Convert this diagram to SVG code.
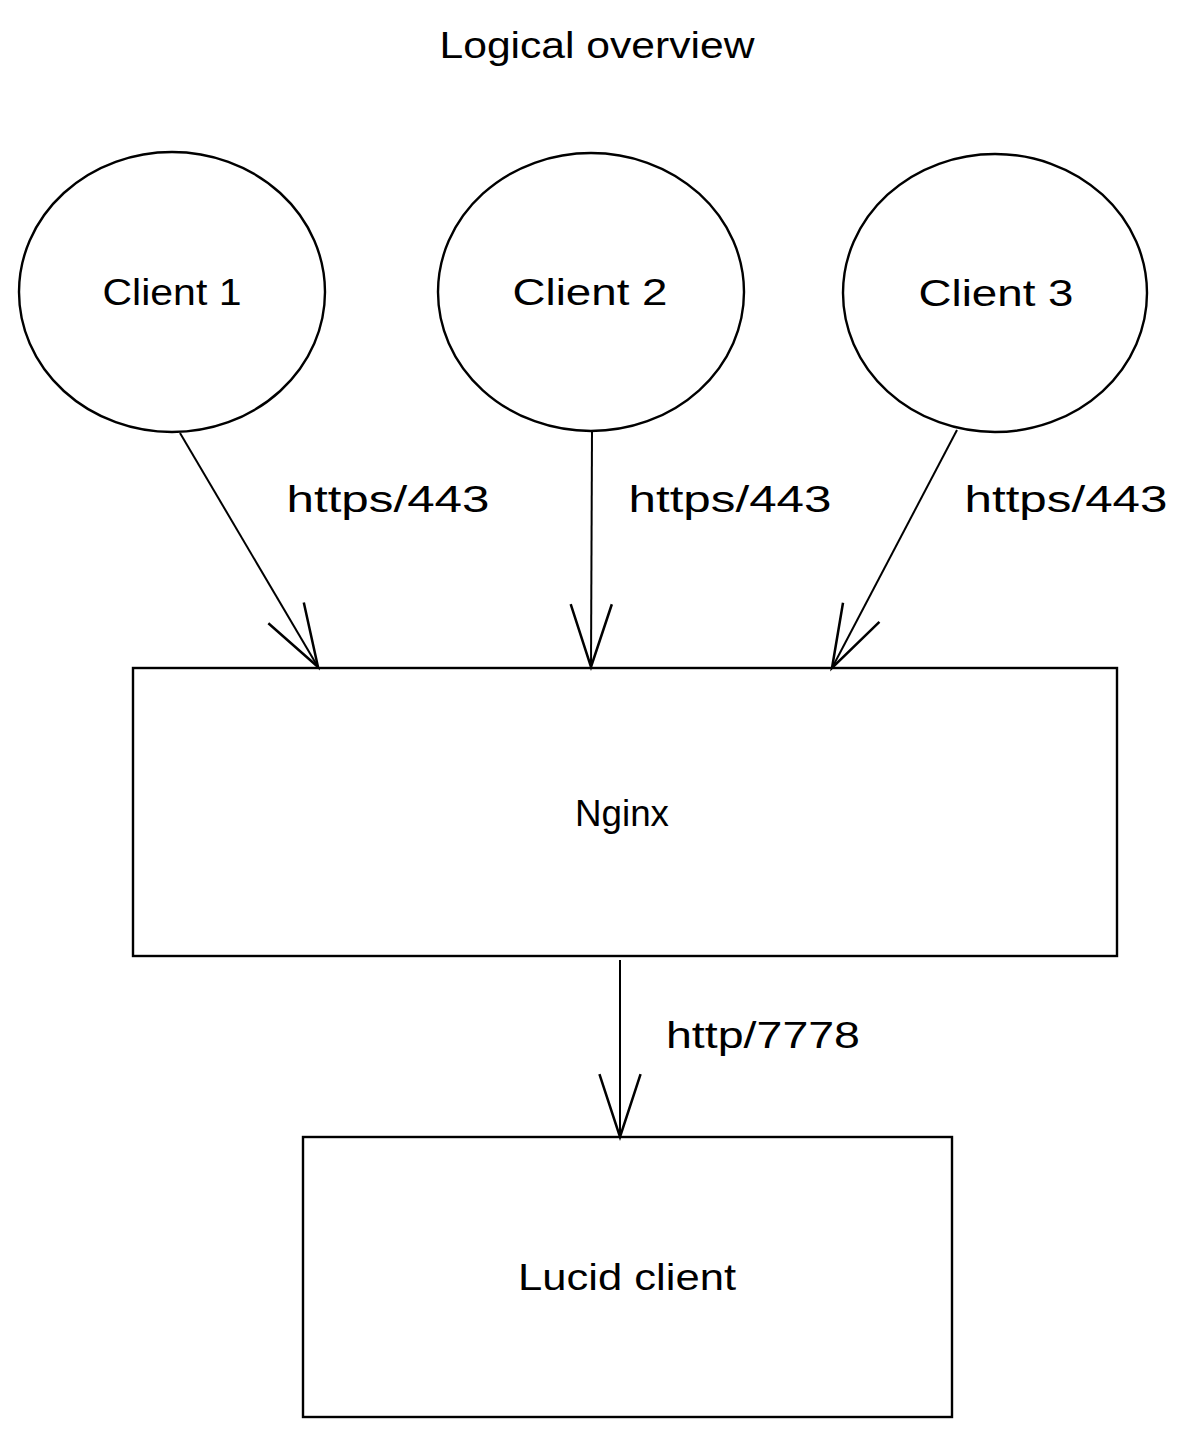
<svg xmlns="http://www.w3.org/2000/svg" width="1191" height="1438" viewBox="0 0 1191 1438">
<style>
.shape{fill:none;stroke:#000;stroke-width:2.4}
.edge{fill:none;stroke:#000;stroke-width:2}
.lbl{font-family:"Liberation Sans","DejaVu Sans",sans-serif;font-size:36px;fill:#000;text-anchor:middle}
.title{font-family:"Liberation Sans","DejaVu Sans",sans-serif;font-size:36px;fill:#000;text-anchor:middle}
</style>
<defs>
<marker id="arrow" markerUnits="userSpaceOnUse" markerWidth="80" markerHeight="60" viewBox="-60 -25 70 50" refX="0" refY="0" orient="auto">
<path d="M -55 -18 L 0 0 L -55 18" fill="none" stroke="#000" stroke-width="2.2"/>
</marker>
</defs>
<rect width="1191" height="1438" fill="#fff"/>
<text class="title" x="597" y="58" textLength="315" lengthAdjust="spacingAndGlyphs">Logical overview</text>
<g id="client1">
<ellipse class="shape" cx="172" cy="292" rx="153" ry="140"/>
<text class="lbl" x="172" y="305" textLength="139" lengthAdjust="spacingAndGlyphs">Client 1</text>
</g>
<g id="client2">
<ellipse class="shape" cx="591" cy="292" rx="153" ry="139"/>
<text class="lbl" x="590" y="305" textLength="155" lengthAdjust="spacingAndGlyphs">Client 2</text>
</g>
<g id="client3">
<ellipse class="shape" cx="995" cy="293" rx="152" ry="139"/>
<text class="lbl" x="996" y="306" textLength="155" lengthAdjust="spacingAndGlyphs">Client 3</text>
</g>
<g id="nginx">
<rect class="shape" x="133" y="668" width="984" height="288"/>
<text class="lbl" x="622" y="826" textLength="94" lengthAdjust="spacingAndGlyphs">Nginx</text>
</g>
<g id="lucid">
<rect class="shape" x="303" y="1137" width="649" height="280"/>
<text class="lbl" x="627" y="1290" textLength="218" lengthAdjust="spacingAndGlyphs">Lucid client</text>
</g>
<g id="connectors">
<line class="edge" x1="180" y1="433" x2="318" y2="667" marker-end="url(#arrow)"/>
<line class="edge" x1="592" y1="430" x2="591" y2="667" marker-end="url(#arrow)"/>
<line class="edge" x1="957" y1="430" x2="832" y2="668" marker-end="url(#arrow)"/>
<line class="edge" x1="620" y1="960" x2="620" y2="1137" marker-end="url(#arrow)"/>
<text class="lbl" x="388" y="512" textLength="203" lengthAdjust="spacingAndGlyphs">https/443</text>
<text class="lbl" x="730" y="512" textLength="203" lengthAdjust="spacingAndGlyphs">https/443</text>
<text class="lbl" x="1066" y="512" textLength="203" lengthAdjust="spacingAndGlyphs">https/443</text>
<text class="lbl" x="763" y="1048" textLength="194" lengthAdjust="spacingAndGlyphs">http/7778</text>
</g>
</svg>
